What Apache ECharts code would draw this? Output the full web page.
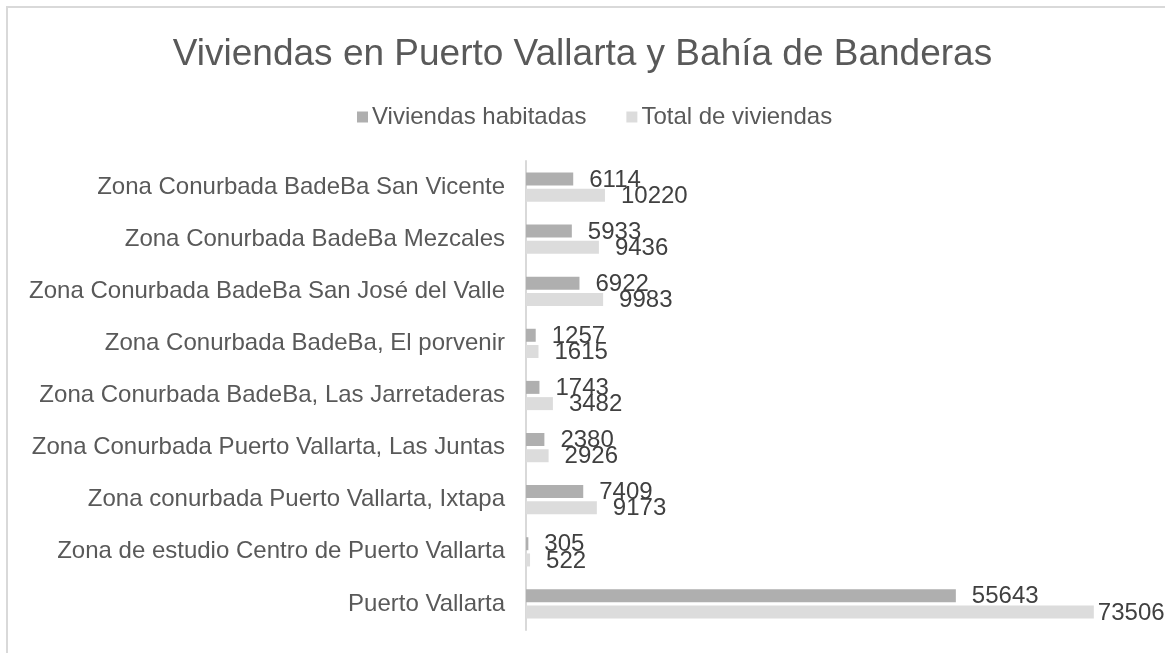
<!DOCTYPE html>
<html>
<head>
<meta charset="utf-8">
<script src="https://cdn.jsdelivr.net/npm/echarts@6/dist/echarts.min.js"></script>
<style>
  html, body { margin: 0; padding: 0; background: #ffffff; }
  .frame {
    position: absolute;
    left: 6px;
    top: 6px;
    width: 1200px;
    height: 700px;
    border: 2px solid #d9d9d9;
  }
  #main { position: absolute; left: 0; top: 0; width: 1165px; height: 653px; }
</style>
</head>
<body>
<div class="frame"></div>
<div id="main"></div>
<script>
  // categories, top to bottom as in the picture
  var zonas = [
    'Zona Conurbada BadeBa San Vicente',
    'Zona Conurbada BadeBa Mezcales',
    'Zona Conurbada BadeBa San José del Valle',
    'Zona Conurbada BadeBa, El porvenir',
    'Zona Conurbada BadeBa, Las Jarretaderas',
    'Zona Conurbada Puerto Vallarta, Las Juntas',
    'Zona conurbada Puerto Vallarta, Ixtapa',
    'Zona de estudio Centro de Puerto Vallarta',
    'Puerto Vallarta'
  ];
  var habitadas = [6114, 5933, 6922, 1257, 1743, 2380, 7409, 305, 55643];
  var totales = [10220, 9436, 9983, 1615, 3482, 2926, 9173, 522, 73506];

  var myChart = echarts.init(document.getElementById('main'), null, { renderer: 'canvas' });
  var fuente = '"Liberation Sans", Arial, sans-serif';

  var etiqueta = {
    show: true,
    position: 'right',
    distance: 16,
    color: '#404040',
    fontSize: 24,
    fontFamily: fuente,
    offset: [0, 1]
  };

  var option = {
    backgroundColor: 'transparent',
    title: {
      text: 'Viviendas en Puerto Vallarta y Bahía de Banderas',
      left: 'center',
      top: 31,
      textStyle: {
        color: '#595959',
        fontSize: 37,
        fontWeight: 'normal',
        fontFamily: fuente
      }
    },
    legend: {
      top: 100,
      left: 352,
      icon: 'rect',
      itemWidth: 11,
      itemHeight: 11,
      itemGap: 40,
      textStyle: { color: '#595959', fontSize: 24, fontFamily: fuente, padding: [0, 0, 0, -1] },
      data: ['Viviendas habitadas', 'Total de viviendas']
    },
    grid: {
      left: 526,
      right: 21,
      top: 161,
      bottom: 23,
      containLabel: false
    },
    xAxis: {
      type: 'value',
      min: 0,
      max: 80000,
      show: false
    },
    yAxis: {
      type: 'category',
      inverse: true,
      data: zonas,
      axisLine: { show: true, lineStyle: { color: '#d9d9d9', width: 2 } },
      axisTick: { show: false },
      axisLabel: { color: '#595959', fontSize: 24, fontFamily: fuente, margin: 21 }
    },
    series: [
      {
        name: 'Viviendas habitadas',
        type: 'bar',
        data: habitadas,
        barWidth: 13,
        barGap: '25%',
        itemStyle: { color: '#afafaf' },
        label: etiqueta
      },
      {
        name: 'Total de viviendas',
        type: 'bar',
        data: totales.map(function (v, i) {
          return i === totales.length - 1 ? { value: v, label: { distance: 4 } } : v;
        }),
        barWidth: 13,
        itemStyle: { color: '#dcdcdc' },
        label: etiqueta
      }
    ]
  };

  myChart.setOption(option);
</script>
</body>
</html>
